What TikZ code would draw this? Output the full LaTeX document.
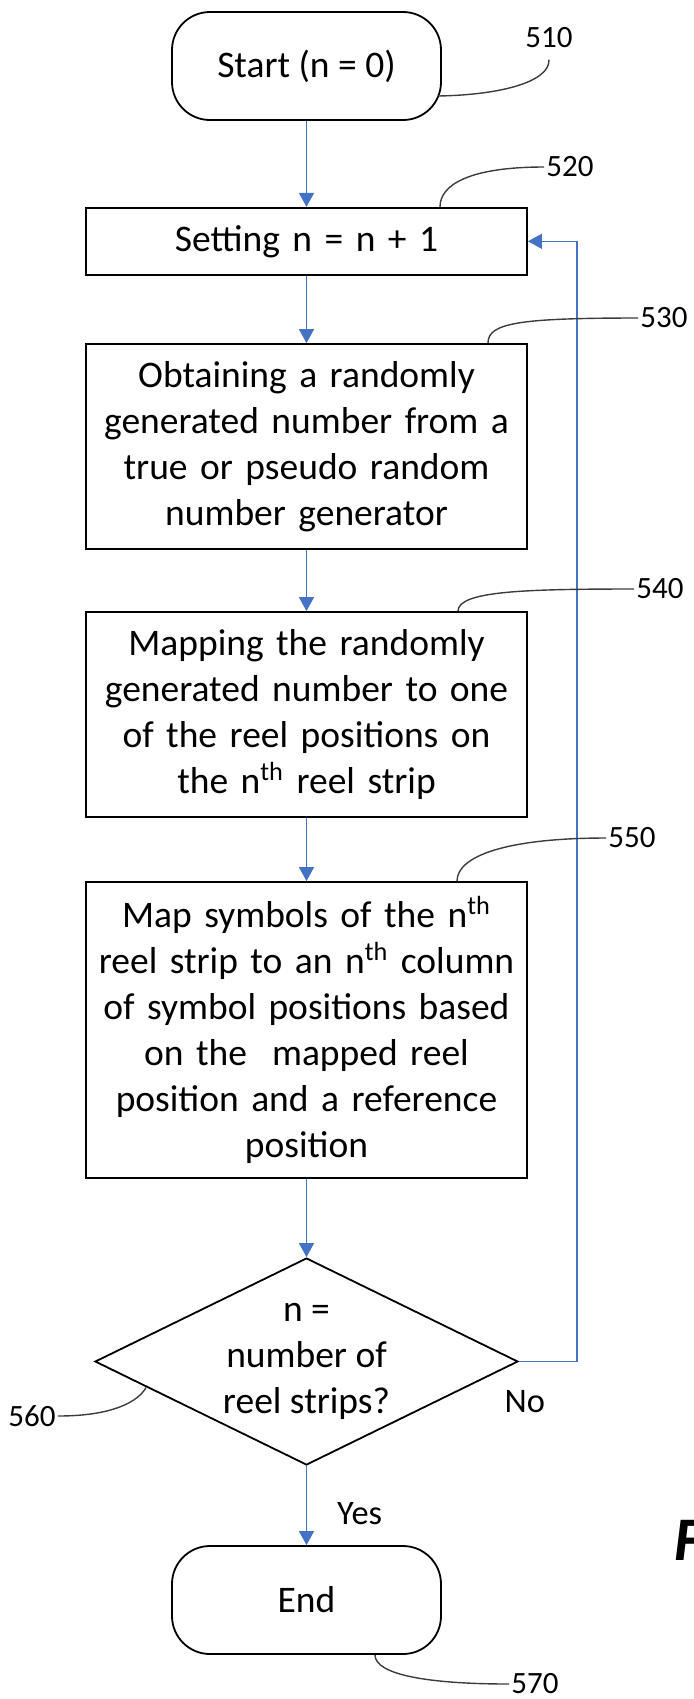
\documentclass[tikz,border=0pt]{standalone}
\usepackage{fontspec}
\setmainfont{Carlito}
\usetikzlibrary{shapes.geometric,arrows.meta}
\definecolor{flowblue}{RGB}{68,114,196}
\definecolor{leadgray}{RGB}{60,60,60}
\tikzset{
  procbox/.style={draw, line width=0.9pt, rectangle, minimum width=220.5pt, text width=215pt, align=center, inner sep=0pt},
  termbox/.style={draw, line width=0.9pt, rectangle, rounded corners=19pt, minimum width=134.5pt, minimum height=54pt, align=center},
  decision/.style={draw, line width=0.9pt, diamond, aspect=2, minimum width=211.5pt, minimum height=103.5pt, inner sep=0pt},
  flow/.style={draw=flowblue, line width=0.7pt, -{Triangle[length=7pt,width=7.5pt]}},
  leader/.style={draw=leadgray, line width=0.7pt},
  refnum/.style={inner sep=1pt, font=\fontsize{15.5}{18}\selectfont},
  answer/.style={inner sep=1pt, font=\fontsize{17.2}{20}\selectfont}
}
\begin{document}
\begin{tikzpicture}[x=0.5pt, y=0.5pt, font=\fontsize{18.75}{23}\selectfont]
    \useasboundingbox (0,0) rectangle (693,-1699);

    \node (start) [termbox] at (306.5,-66) {Start (n = 0)};
    \node (set) [procbox, below of=start, node distance=87.65pt, minimum height=33.5pt] {Setting n = n + 1};
    \node (obtain) [procbox, below of=set, node distance=102.6pt, minimum height=102.5pt]
        {Obtaining a randomly\\generated number from a\\true or pseudo random\\number generator};
    \node (mapnum) [procbox, below of=obtain, node distance=134pt, minimum height=102.5pt]
        {Mapping the randomly\\generated number to one\\of the reel positions on\\the n\textsuperscript{th} reel strip};
    \node (mapsym) [procbox, below of=mapnum, node distance=157.75pt, minimum height=148pt]
        {Map symbols of the n\textsuperscript{th}\\reel strip to an n\textsuperscript{th} column\\of symbol positions based\\on the~ mapped reel\\position and a reference\\position};
    \node (check) [decision, below of=mapsym, node distance=165.75pt,
        label={[name=checktxt, align=center]center:{n =\\number of\\reel strips?}}] {};
    \node (stop) [termbox, below of=check, node distance=119.25pt] {End};

    % flow
    \draw[flow] (start) -- (set);
    \draw[flow] (set) -- (obtain);
    \draw[flow] (obtain) -- (mapnum);
    \draw[flow] (mapnum) -- (mapsym);
    \draw[flow] (mapsym) -- (check);
    \draw[flow] (check.south) -- node[answer, pos=0.6, right=14pt] (yes) {Yes} (stop.north);
    \draw[flow] (check.east) -- node[answer, pos=0.1, below=13pt] (no) {No} ++(58,0) |- (set.east);

    % reference numerals
    \node (l510) [refnum] at (549,-38) {510};
    \node (l520) [refnum] at (570,-167) {520};
    \node (l530) [refnum] at (664,-318) {530};
    \node (l540) [refnum] at (660,-589) {540};
    \node (l550) [refnum] at (632,-838) {550};
    \node (l560) [refnum] at (32,-1416) {560};
    \node (l570) [refnum] at (535,-1684) {570};
    \coordinate (c510) at (438,-96);

    \draw[leader] (c510) .. controls (500,-95) and (550,-82) .. ([yshift=-4.5pt]l510.south);
    \draw[leader] ([xshift=66.75pt]set.north) .. controls +(0,22) and +(-75,0) .. (l520.west);
    \draw[leader] ([xshift=90.75pt]obtain.north) .. controls +(0,20) and +(-120,0) .. (l530.west);
    \draw[leader] ([xshift=75.75pt]mapnum.north) .. controls +(0,20) and +(-110,0) .. (l540.west);
    \draw[leader] ([xshift=75.25pt]mapsym.north) .. controls +(0,25) and +(-100,0) .. (l550.west);
    \draw[leader] (l560.east) .. controls +(55,0) and +(-8,-14) .. ([shift={(26pt,-13pt)}]check.west);
    \draw[leader] ([xshift=34.25pt]stop.south) .. controls +(0,-20) and +(-80,0) .. (l570.west);

    \node (figlabel) [anchor=base west, inner sep=0pt, font=\fontsize{31}{36}\selectfont\bfseries\itshape] at (674,-1560) {F};
\end{tikzpicture}
\end{document}
